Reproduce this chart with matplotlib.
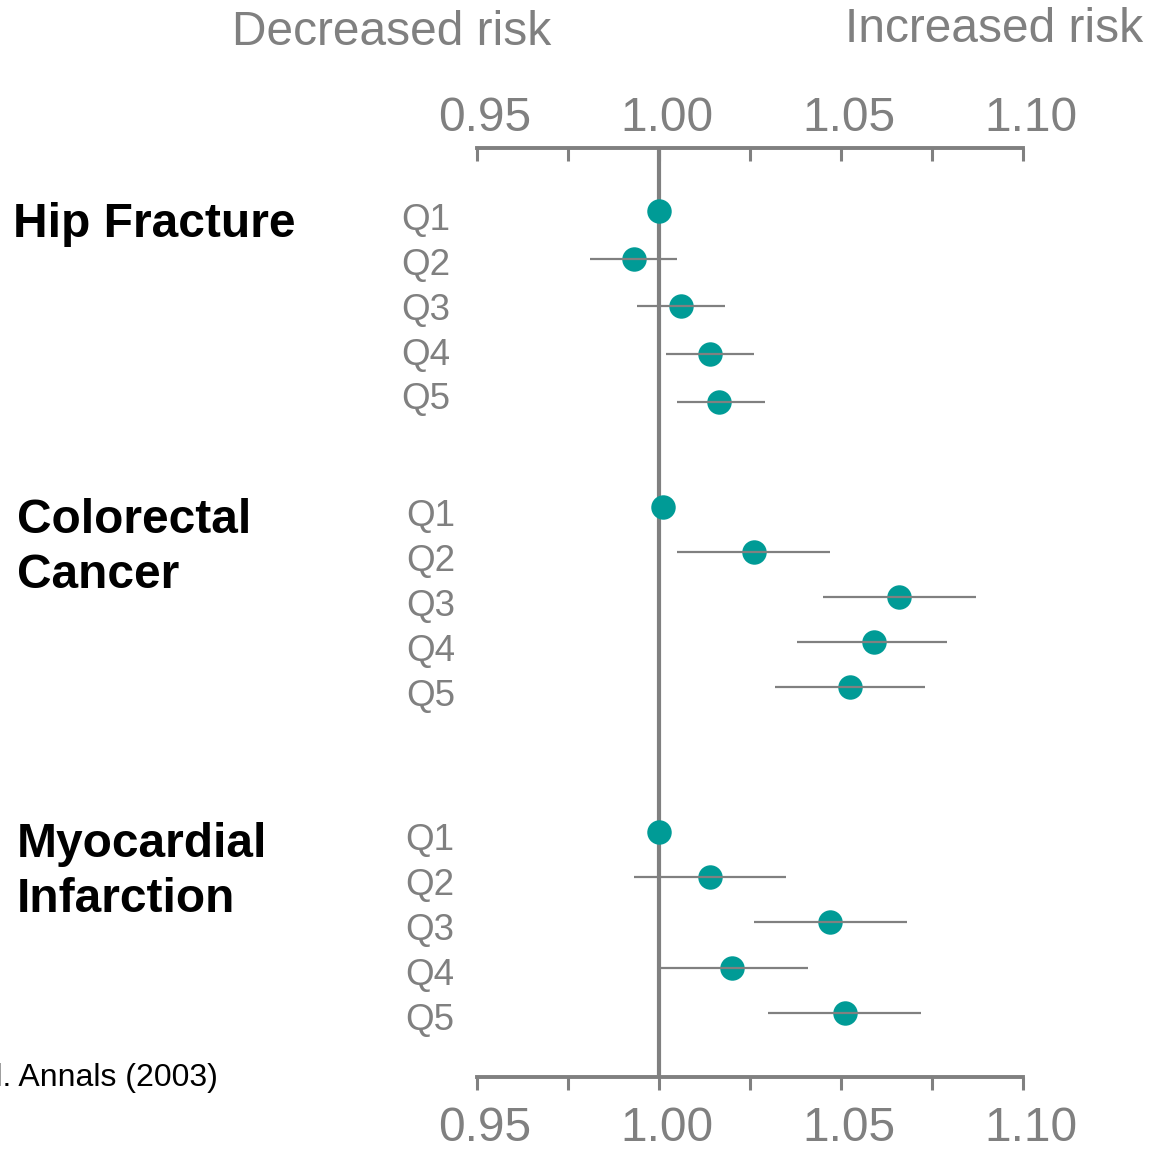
import numpy as np
import matplotlib
matplotlib.use("Agg")
from matplotlib import pyplot as plt
from matplotlib.transforms import blended_transform_factory, ScaledTranslation

plt.rcParams['font.family'] = ['Liberation Sans', 'DejaVu Sans']

# Relative risk by quintile, with confidence limits (reference quintile has none).
groups = ["Hip Fracture", "Colorectal\nCancer", "Myocardial\nInfarction"]
quintiles = ["Q1", "Q2", "Q3", "Q4", "Q5"]

hip_rr = [1.000, 0.993, 1.006, 1.014, 1.0165]
hip_lo = [np.nan, 0.981, 0.994, 1.002, 1.005]
hip_hi = [np.nan, 1.005, 1.018, 1.026, 1.029]

crc_rr = [1.001, 1.026, 1.066, 1.059, 1.0525]
crc_lo = [np.nan, 1.005, 1.045, 1.038, 1.032]
crc_hi = [np.nan, 1.047, 1.087, 1.079, 1.073]

mi_rr = [1.000, 1.014, 1.047, 1.020, 1.051]
mi_lo = [np.nan, 0.993, 1.026, 1.000, 1.030]
mi_hi = [np.nan, 1.035, 1.068, 1.041, 1.072]

rr = [hip_rr, crc_rr, mi_rr]
lo = [hip_lo, crc_lo, mi_lo]
hi = [hip_hi, crc_hi, mi_hi]

x_ticks = [0.95, 1.00, 1.05, 1.10]
x_tick_labels = ["0.95", "1.00", "1.05", "1.10"]

# Layout (rows measured in units of 45 px, counted down from top axis)
group_start = [1.40, 7.98, 15.20]
row_step = [1.061, 1.0, 1.005]
label_start = [1.60, 8.18, 15.38]
label_right = [450, 455, 454]
title_left = [13, 17, 17]
title_base = [1.98, 8.55, 15.75]

GRAY = "#808080"
TEAL = "#009b96"
W, H = 1149, 1150

fig = plt.figure(figsize=(W / 100, H / 100), dpi=100)
ax = fig.add_axes([477 / W, (H - 1077) / H, 546 / W, (1077 - 148) / H])

ax.set_xlim(0.95, 1.10)
ax.set_ylim((1077 - 148) / 45, 0)

# Reference line at 1.00
ax.axvline(1.0, color=GRAY, lw=3, zorder=1)

trans_lbl = blended_transform_factory(fig.transFigure, ax.transData)

for g in range(len(groups)):
    ys = [group_start[g] + i * row_step[g] for i in range(len(quintiles))]
    ax.scatter(rr[g], ys, s=310, color=TEAL, zorder=3, linewidths=0)
    ax.hlines(ys, lo[g], hi[g], color=GRAY, lw=1.6, zorder=4)

    for i, q in enumerate(quintiles):
        ax.text(label_right[g] / W, label_start[g] + i * 1.0, q,
                transform=trans_lbl, ha="right", va="center",
                fontsize=26.5, color=GRAY)

    # Group title, one line at a time
    for k, line in enumerate(groups[g].split("\n")):
        ax.text(title_left[g] / W, title_base[g] + k * 1.22, line,
                transform=trans_lbl, ha="left", va="baseline",
                fontsize=34.5, fontweight="bold", color="black")

# Axis styling
for side in ["left", "right"]:
    ax.spines[side].set_visible(False)
for side in ["top", "bottom"]:
    ax.spines[side].set_color(GRAY)
    ax.spines[side].set_linewidth(2.8)
ax.set_yticks([])

shift = ScaledTranslation(8 / 100, 0, fig.dpi_scale_trans)

ax.set_xticks(x_ticks)
ax.set_xticklabels(x_tick_labels)
ax.set_xticks([0.975, 1.025, 1.075], minor=True)
ax.tick_params(axis="x", which="both", direction="out", length=9, width=2.2,
               color=GRAY, labelsize=34.5, labelcolor=GRAY, pad=12)
ax.xaxis.get_major_ticks()[1].tick1line.set_color("black")
for t in ax.get_xticklabels():
    t.set_transform(t.get_transform() + shift)

top = ax.secondary_xaxis("top")
top.set_xticks(x_ticks)
top.set_xticklabels(x_tick_labels)
top.set_xticks([0.975, 1.025, 1.075], minor=True)
top.spines["top"].set_visible(False)
top.tick_params(axis="x", which="both", direction="in", length=9, width=2.2,
                color=GRAY, labelsize=34.5, labelcolor=GRAY, pad=5)
for t in top.get_xticklabels():
    t.set_transform(t.get_transform() + shift)

# Headers and source
fig.text(232 / W, 1 - 45 / H, "Decreased risk", ha="left", va="baseline",
         fontsize=34.5, color=GRAY)
fig.text(1143 / W, 1 - 42 / H, "Increased risk", ha="right", va="baseline",
         fontsize=34.5, color=GRAY)
fig.text(218 / W, 1 - 1086 / H, "et al. Annals (2003)", ha="right",
         va="baseline", fontsize=23, color="black")

fig.savefig("out.png", dpi=100)
